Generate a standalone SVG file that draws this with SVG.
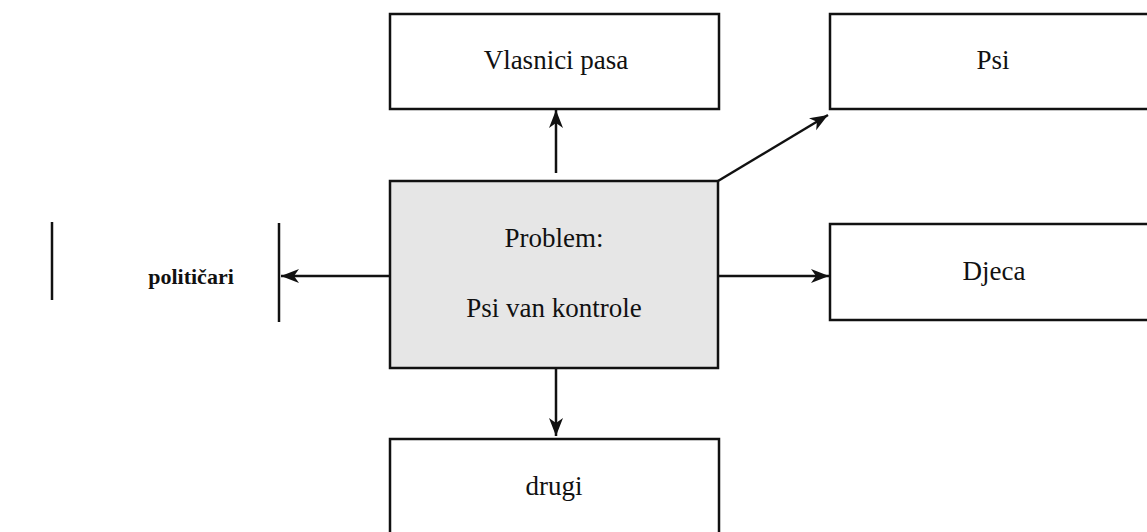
<svg xmlns="http://www.w3.org/2000/svg" width="1147" height="532" viewBox="0 0 1147 532">
<style>
.box{fill:#fff;stroke:#111;stroke-width:2.5}
.center{fill:#e6e6e6;stroke:#111;stroke-width:2.5}
.lbl{font-family:"Liberation Serif","Times New Roman",serif;font-size:27px;fill:#111;text-anchor:middle}
.bold{font-family:"Liberation Serif","Times New Roman",serif;font-size:22px;font-weight:bold;fill:#111;text-anchor:middle}
.conn{stroke:#111;stroke-width:2.5;fill:none;marker-end:url(#ah)}
.bar{stroke:#111;stroke-width:2.5}
</style>
<defs>
<marker id="ah" markerUnits="userSpaceOnUse" markerWidth="20" markerHeight="16" refX="18" refY="8" orient="auto">
<path d="M0,1 L18,8 L0,15 L5,8 z" fill="#111"/>
</marker>
</defs>
<rect width="1147" height="532" fill="#fff"/>
<g id="vlasnici">
<rect class="box" x="390" y="14" width="329" height="95"/>
<text class="lbl" x="556" y="69">Vlasnici pasa</text>
</g>
<g id="psi">
<rect class="box" x="830" y="14" width="330" height="95"/>
<text class="lbl" x="993" y="69">Psi</text>
</g>
<g id="problem">
<rect class="center" x="390" y="181" width="328" height="187"/>
<text class="lbl" x="554" y="247">Problem:</text>
<text class="lbl" x="554" y="317">Psi van kontrole</text>
</g>
<g id="djeca">
<rect class="box" x="830" y="224" width="330" height="96"/>
<text class="lbl" x="994" y="280">Djeca</text>
</g>
<g id="drugi">
<rect class="box" x="390" y="439" width="329" height="100"/>
<text class="lbl" x="554" y="495">drugi</text>
</g>
<g id="politicari">
<line class="bar" x1="52" y1="222" x2="52" y2="300"/>
<text class="bold" x="191" y="284">političari</text>
<line class="bar" x1="279" y1="223" x2="279" y2="322"/>
</g>
<g id="connectors">
<line class="conn" x1="556" y1="173" x2="556" y2="110"/>
<line class="conn" x1="718" y1="181" x2="828" y2="115"/>
<line class="conn" x1="390" y1="276" x2="281" y2="276"/>
<line class="conn" x1="718" y1="276" x2="829" y2="276"/>
<line class="conn" x1="556" y1="368" x2="556" y2="436"/>
</g>
</svg>
